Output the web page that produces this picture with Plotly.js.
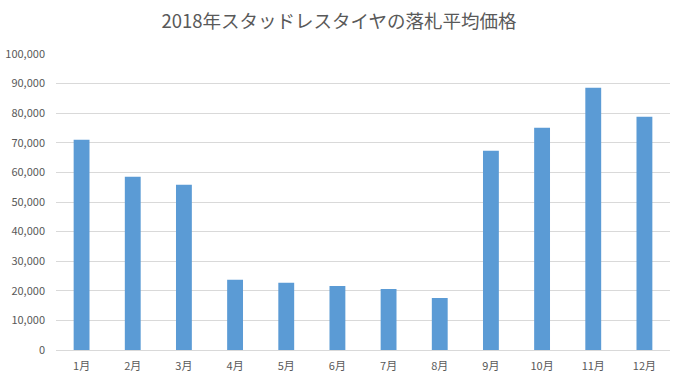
<!DOCTYPE html>
<html>
<head>
<meta charset="utf-8">
<script src="https://cdn.plot.ly/plotly-3.0.1.min.js"></script>
<style>html,body{margin:0;padding:0;background:#fff;}#chart{width:678px;height:385px;}</style>
</head>
<body>
<div id="chart"></div>
<script>
const months = ["1月","2月","3月","4月","5月","6月","7月","8月","9月","10月","11月","12月"];
const prices = [71000, 58500, 55800, 23700, 22700, 21600, 20600, 17600, 67300, 75100, 88600, 78800];
const yTicks = [0,10000,20000,30000,40000,50000,60000,70000,80000,90000,100000];

const font = "'Noto Sans CJK JP', 'Noto Sans', sans-serif";
Plotly.newPlot('chart', [{
  type: 'bar',
  x: months,
  y: prices,
  marker: {color: '#5b9bd5'},
  hoverinfo: 'none'
}], {
  width: 678, height: 385,
  margin: {l: 56, r: 8, t: 54, b: 35},
  paper_bgcolor: '#ffffff', plot_bgcolor: '#ffffff',
  bargap: 0.69,
  showlegend: false,
  title: {text: '2018年スタッドレスタイヤの落札平均価格', x: 0.5, xanchor: 'center', y: 0.943, yanchor: 'middle',
          font: {family: font, size: 18.5, color: '#595959'}},
  xaxis: {type: 'category', showgrid: false, showline: true, linecolor: '#d9d9d9', linewidth: 1,
          ticks: '', ticklabelstandoff: 6, tickfont: {family: font, size: 11, color: '#595959'}, fixedrange: true},
  yaxis: {range: [0, 100000], tickvals: yTicks, ticktext: yTicks.map(v => v.toLocaleString('en-US')),
          showgrid: true, gridcolor: '#d9d9d9', gridwidth: 1, zeroline: false, showline: false,
          ticks: '', ticklabelstandoff: 10, tickfont: {family: font, size: 11, color: '#595959'}, fixedrange: true}
}, {displayModeBar: false, staticPlot: true});
</script>
</body>
</html>
